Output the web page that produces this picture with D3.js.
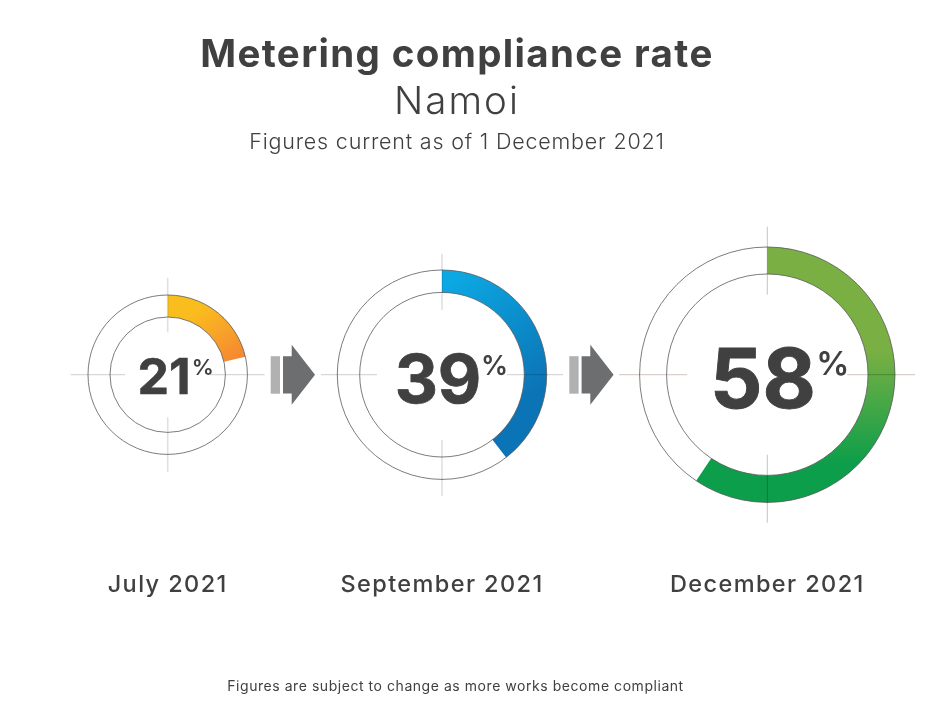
<!DOCTYPE html>
<html>
<head>
<meta charset="utf-8">
<script src="https://cdn.jsdelivr.net/npm/d3@7"></script>
<style>
body { margin: 0; background: #fff; }
text { font-family: Inter, Lato, sans-serif; fill: #404040; }
</style>
</head>
<body>
<div id="chart"></div>
<script>
var periods = ["July 2021", "September 2021", "December 2021"];
var rates = [21, 39, 58];
// the drawn arcs run a little past the printed figure
var arcValues = [21.4, 39.5, 59.4];
var colorsFrom = ["#fabd1e", "#0ca8e3", "#7ab043"];
var colorsTo = ["#f58434", "#0b74b6", "#0c9e4a"];

var width = 943, height = 716;

var svg = d3.select("#chart").append("svg")
    .attr("width", width)
    .attr("height", height)
    .style("display", "block");

var defs = svg.append("defs");

// layout of each donut
var layout = [
    {cx: 167.7, outer: 79.7, inner: 57.7, reach: 97, gap: 42.5, size: 50, base: 19.4, numX: -3.7, pctSize: 22, pctX: 24,
        grad: [0.35, 0.25, 0.95, 1], tickH: "#cfcfcf", tickV: "#e0e0e0", tickW: 1.6},
    {cx: 442, outer: 104.7, inner: 82.3, reach: 121, gap: 65, size: 67, base: 28.4, numX: -4, pctSize: 27, pctX: 39,
        grad: [0.2, 0, 0.55, 0.8], tickH: "#cfcfcf", tickV: "#e0e0e0", tickW: 1.6},
    {cx: 767.3, outer: 127.7, inner: 100.7, reach: 148, gap: 80, size: 82, base: 33.4, numX: -4.3, pctSize: 33, pctX: 49,
        grad: [0, 0.4, 0, 0.85], tickH: "#cfc6c0", tickV: "#c4c4c4", tickW: 1}
];
var cy = 374.7;

var angle = d3.scaleLinear().domain([0, 100]).range([0, 2 * Math.PI]);
var arc = d3.arc();

rates.forEach(function(rate, i) {
    var l = layout[i];
    var g = svg.append("g").attr("transform", "translate(" + l.cx + "," + cy + ")");

    var grad = defs.append("linearGradient")
        .attr("id", "grad" + i)
        .attr("x1", l.grad[0]).attr("y1", l.grad[1])
        .attr("x2", l.grad[2]).attr("y2", l.grad[3]);
    grad.append("stop").attr("offset", 0).attr("stop-color", colorsFrom[i]);
    grad.append("stop").attr("offset", 1).attr("stop-color", colorsTo[i]);

    g.append("path")
        .attr("d", arc({innerRadius: l.inner, outerRadius: l.outer, startAngle: 0, endAngle: angle(arcValues[i])}))
        .attr("fill", "url(#grad" + i + ")");

    // the two thin rings
    [l.inner, l.outer].forEach(function(r) {
        g.append("circle")
            .attr("r", r)
            .attr("fill", "none")
            .attr("stroke", "#5a5a5a")
            .attr("stroke-width", 0.8);
    });

    // crosshair ticks, multiplied so they only darken the arc under them
    [[-1, 0], [1, 0], [0, -1], [0, 1]].forEach(function(d) {
        g.append("line")
            .attr("x1", d[0] * l.gap).attr("y1", d[1] * l.gap)
            .attr("x2", d[0] * l.reach).attr("y2", d[1] * l.reach)
            .attr("stroke", d[0] ? l.tickH : l.tickV)
            .attr("stroke-width", d[0] ? 1 : l.tickW)
            .style("mix-blend-mode", "multiply");
    });

    // bold plus a hairline stroke: as heavy as 800 but not as wide
    g.append("text")
        .attr("x", l.numX)
        .attr("y", l.base)
        .attr("text-anchor", "middle")
        .attr("font-size", l.size)
        .attr("font-weight", 700)
        .attr("stroke", "#404040")
        .attr("stroke-width", l.size / 90)
        .text(rate);

    g.append("text")
        .attr("x", l.pctX)
        .attr("y", 0)
        .attr("font-size", l.pctSize)
        .attr("font-weight", 600)
        .text("%");

    svg.append("text")
        .attr("x", l.cx)
        .attr("y", 592)
        .attr("text-anchor", "middle")
        .attr("font-size", 23.5)
        .attr("font-weight", 500)
        .attr("letter-spacing", 1.4)
        .text(periods[i]);
});

// arrows between the donuts
[270.7, 569.3].forEach(function(x) {
    var g = svg.append("g").attr("transform", "translate(" + x + "," + cy + ")");
    g.append("rect").attr("x", 0).attr("y", -18.5).attr("width", 9.3).attr("height", 37.5).attr("fill", "#b1b1b1");
    g.append("path")
        .attr("d", "M12.3,-18.5H21V-30L44.3,0L21,30V18.8H12.3Z")
        .attr("fill", "#6d6e70");
});

// titles
var titles = [
    {text: "Metering compliance rate", y: 66.5, size: 38.5, weight: 700, spacing: 1.35},
    {text: "Namoi", y: 114, size: 38.5, weight: 300, spacing: 2},
    {text: "Figures current as of 1 December 2021", y: 149, size: 21.5, weight: 300, spacing: 0.8}
];
titles.forEach(function(t) {
    svg.append("text")
        .attr("x", 457)
        .attr("y", t.y)
        .attr("text-anchor", "middle")
        .attr("font-size", t.size)
        .attr("font-weight", t.weight)
        .attr("letter-spacing", t.spacing)
        .text(t.text);
});

svg.append("text")
    .attr("x", 455.5)
    .attr("y", 691)
    .attr("text-anchor", "middle")
    .attr("font-size", 14)
    .attr("letter-spacing", 0.55)
    .text("Figures are subject to change as more works become compliant");
</script>
</body>
</html>
